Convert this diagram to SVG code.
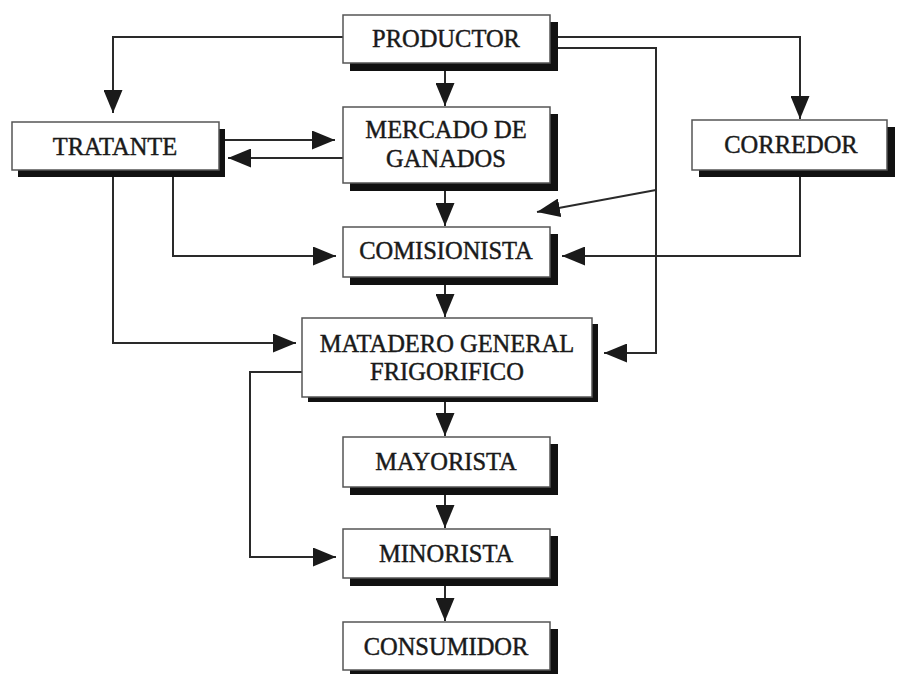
<svg xmlns="http://www.w3.org/2000/svg" width="898" height="674" viewBox="0 0 898 674">
<defs>
<marker id="ah" markerUnits="userSpaceOnUse" markerWidth="23" markerHeight="19" refX="23" refY="9.5" orient="auto">
<path d="M0,0 L23,9.5 L0,19 z" fill="#1a1a1a"/>
</marker>
<style>
.box{fill:#fff;stroke:#555;stroke-width:1.5}
.sh{fill:#111}
.t{font-family:"Liberation Serif","Times New Roman",serif;font-size:24.5px;fill:#1a1a1a;stroke:#1a1a1a;stroke-width:0.45;text-anchor:middle}
.c{fill:none;stroke:#2a2a2a;stroke-width:2;marker-end:url(#ah)}
</style>
</defs>
<rect width="898" height="674" fill="#fff"/>
<g id="connectors">
<path class="c" d="M343,37 H113 V113"/>
<path class="c" d="M445,71 V106"/>
<path class="c" d="M558,37 H800 V119"/>
<path class="c" d="M558,48 H656 V353 H604"/>
<path class="c" d="M656,190 L537,212"/>
<path class="c" d="M225,140 H335"/>
<path class="c" d="M343,158 H228"/>
<path class="c" d="M445,191 V226"/>
<path class="c" d="M173,177 V256 H336"/>
<path class="c" d="M800,177 V256 H562"/>
<path class="c" d="M445,285 V317"/>
<path class="c" d="M113,177 V343 H296"/>
<path class="c" d="M445,402 V436"/>
<path class="c" d="M302,372 H250 V557 H336"/>
<path class="c" d="M445,495 V528"/>
<path class="c" d="M445,586 V621"/>
</g>
<g id="productor">
<rect class="sh" x="350" y="22" width="208" height="49"/>
<rect class="box" x="343" y="15" width="207" height="48"/>
<text class="t" x="446" y="47">PRODUCTOR</text>
</g>
<g id="tratante">
<rect class="sh" x="18" y="129" width="207" height="48"/>
<rect class="box" x="12" y="122" width="207" height="48"/>
<text class="t" x="115" y="155">TRATANTE</text>
</g>
<g id="mercado">
<rect class="sh" x="350" y="114" width="208" height="77"/>
<rect class="box" x="343" y="107" width="207" height="76"/>
<text class="t" x="446" y="138">MERCADO DE</text>
<text class="t" x="446" y="167">GANADOS</text>
</g>
<g id="corredor">
<rect class="sh" x="699" y="127" width="196" height="50"/>
<rect class="box" x="692" y="120" width="195" height="50"/>
<text class="t" x="791" y="153">CORREDOR</text>
</g>
<g id="comisionista">
<rect class="sh" x="350" y="234" width="208" height="51"/>
<rect class="box" x="343" y="227" width="207" height="50"/>
<text class="t" x="446" y="259">COMISIONISTA</text>
</g>
<g id="matadero">
<rect class="sh" x="308" y="324" width="290" height="78"/>
<rect class="box" x="302" y="318" width="290" height="79"/>
<text class="t" x="447" y="352">MATADERO GENERAL</text>
<text class="t" x="447" y="380">FRIGORIFICO</text>
</g>
<g id="mayorista">
<rect class="sh" x="350" y="444" width="208" height="51"/>
<rect class="box" x="343" y="437" width="207" height="50"/>
<text class="t" x="446" y="470">MAYORISTA</text>
</g>
<g id="minorista">
<rect class="sh" x="350" y="536" width="208" height="50"/>
<rect class="box" x="343" y="529" width="207" height="49"/>
<text class="t" x="446" y="562">MINORISTA</text>
</g>
<g id="consumidor">
<rect class="sh" x="350" y="629" width="208" height="46"/>
<rect class="box" x="343" y="622" width="207" height="48"/>
<text class="t" x="446" y="655">CONSUMIDOR</text>
</g>
</svg>
